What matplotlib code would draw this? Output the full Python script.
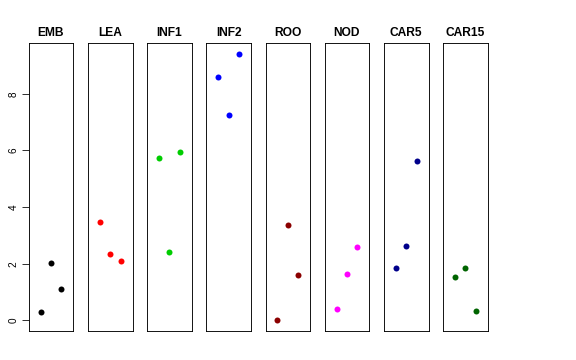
import numpy as np
import matplotlib
matplotlib.use("Agg")
import matplotlib.pyplot as plt

plt.rcParams['font.family'] = ['Liberation Sans', 'DejaVu Sans']

# one panel per stage, three values each
stages = ["EMB", "LEA", "INF1", "INF2", "ROO", "NOD", "CAR5", "CAR15"]
emb = [0.29, 2.03, 1.12]
lea = [3.49, 2.36, 2.08]
inf1 = [5.74, 2.42, 5.95]
inf2 = [8.59, 7.24, 9.42]
roo = [0.00, 3.36, 1.59]
nod = [0.39, 1.62, 2.58]
car5 = [1.85, 2.62, 5.62]
car15 = [1.52, 1.85, 0.32]
values = [emb, lea, inf1, inf2, roo, nod, car5, car15]
colors = ["black", "red", "#00CD00", "blue", "#8B0000", "magenta", "#00008B", "#006400"]
yticks = [0, 2, 4, 6, 8]

W, H = 576, 360
fig = plt.figure(figsize=(W/72, H/72), dpi=72)

allv = np.concatenate(values)
rng = allv.max() - allv.min()
ylo, yhi = allv.min() - 0.04*rng, allv.max() + 0.04*rng

left0, step, width = 28.7, 59.2, 44.6
top, bottom = 43, 331

for i, (name, vals, col) in enumerate(zip(stages, values, colors)):
    ax = fig.add_axes([(left0 + step*i)/W, (H - bottom)/H, width/W, (bottom - top)/H])
    x = np.arange(1, len(vals) + 1)
    ax.plot(x, vals, 'o', color=col, markersize=6, markeredgewidth=0)
    ax.set_xlim(2 - 2.165, 2 + 2.165)
    ax.set_ylim(ylo, yhi)
    ax.set_xticks([])
    for s in ax.spines.values():
        s.set_linewidth(0.9)
        s.set_color("black")
    ax.set_title(name, fontsize=12, fontweight='bold', pad=7)
    if i == 0:
        ax.set_yticks(yticks)
        ax.set_yticklabels([str(t) for t in yticks], rotation=90, va='center', fontsize=10)
        ax.tick_params(axis='y', length=7, width=0.8, pad=3)
    else:
        ax.set_yticks([])

fig.savefig("out.png", dpi=72)
